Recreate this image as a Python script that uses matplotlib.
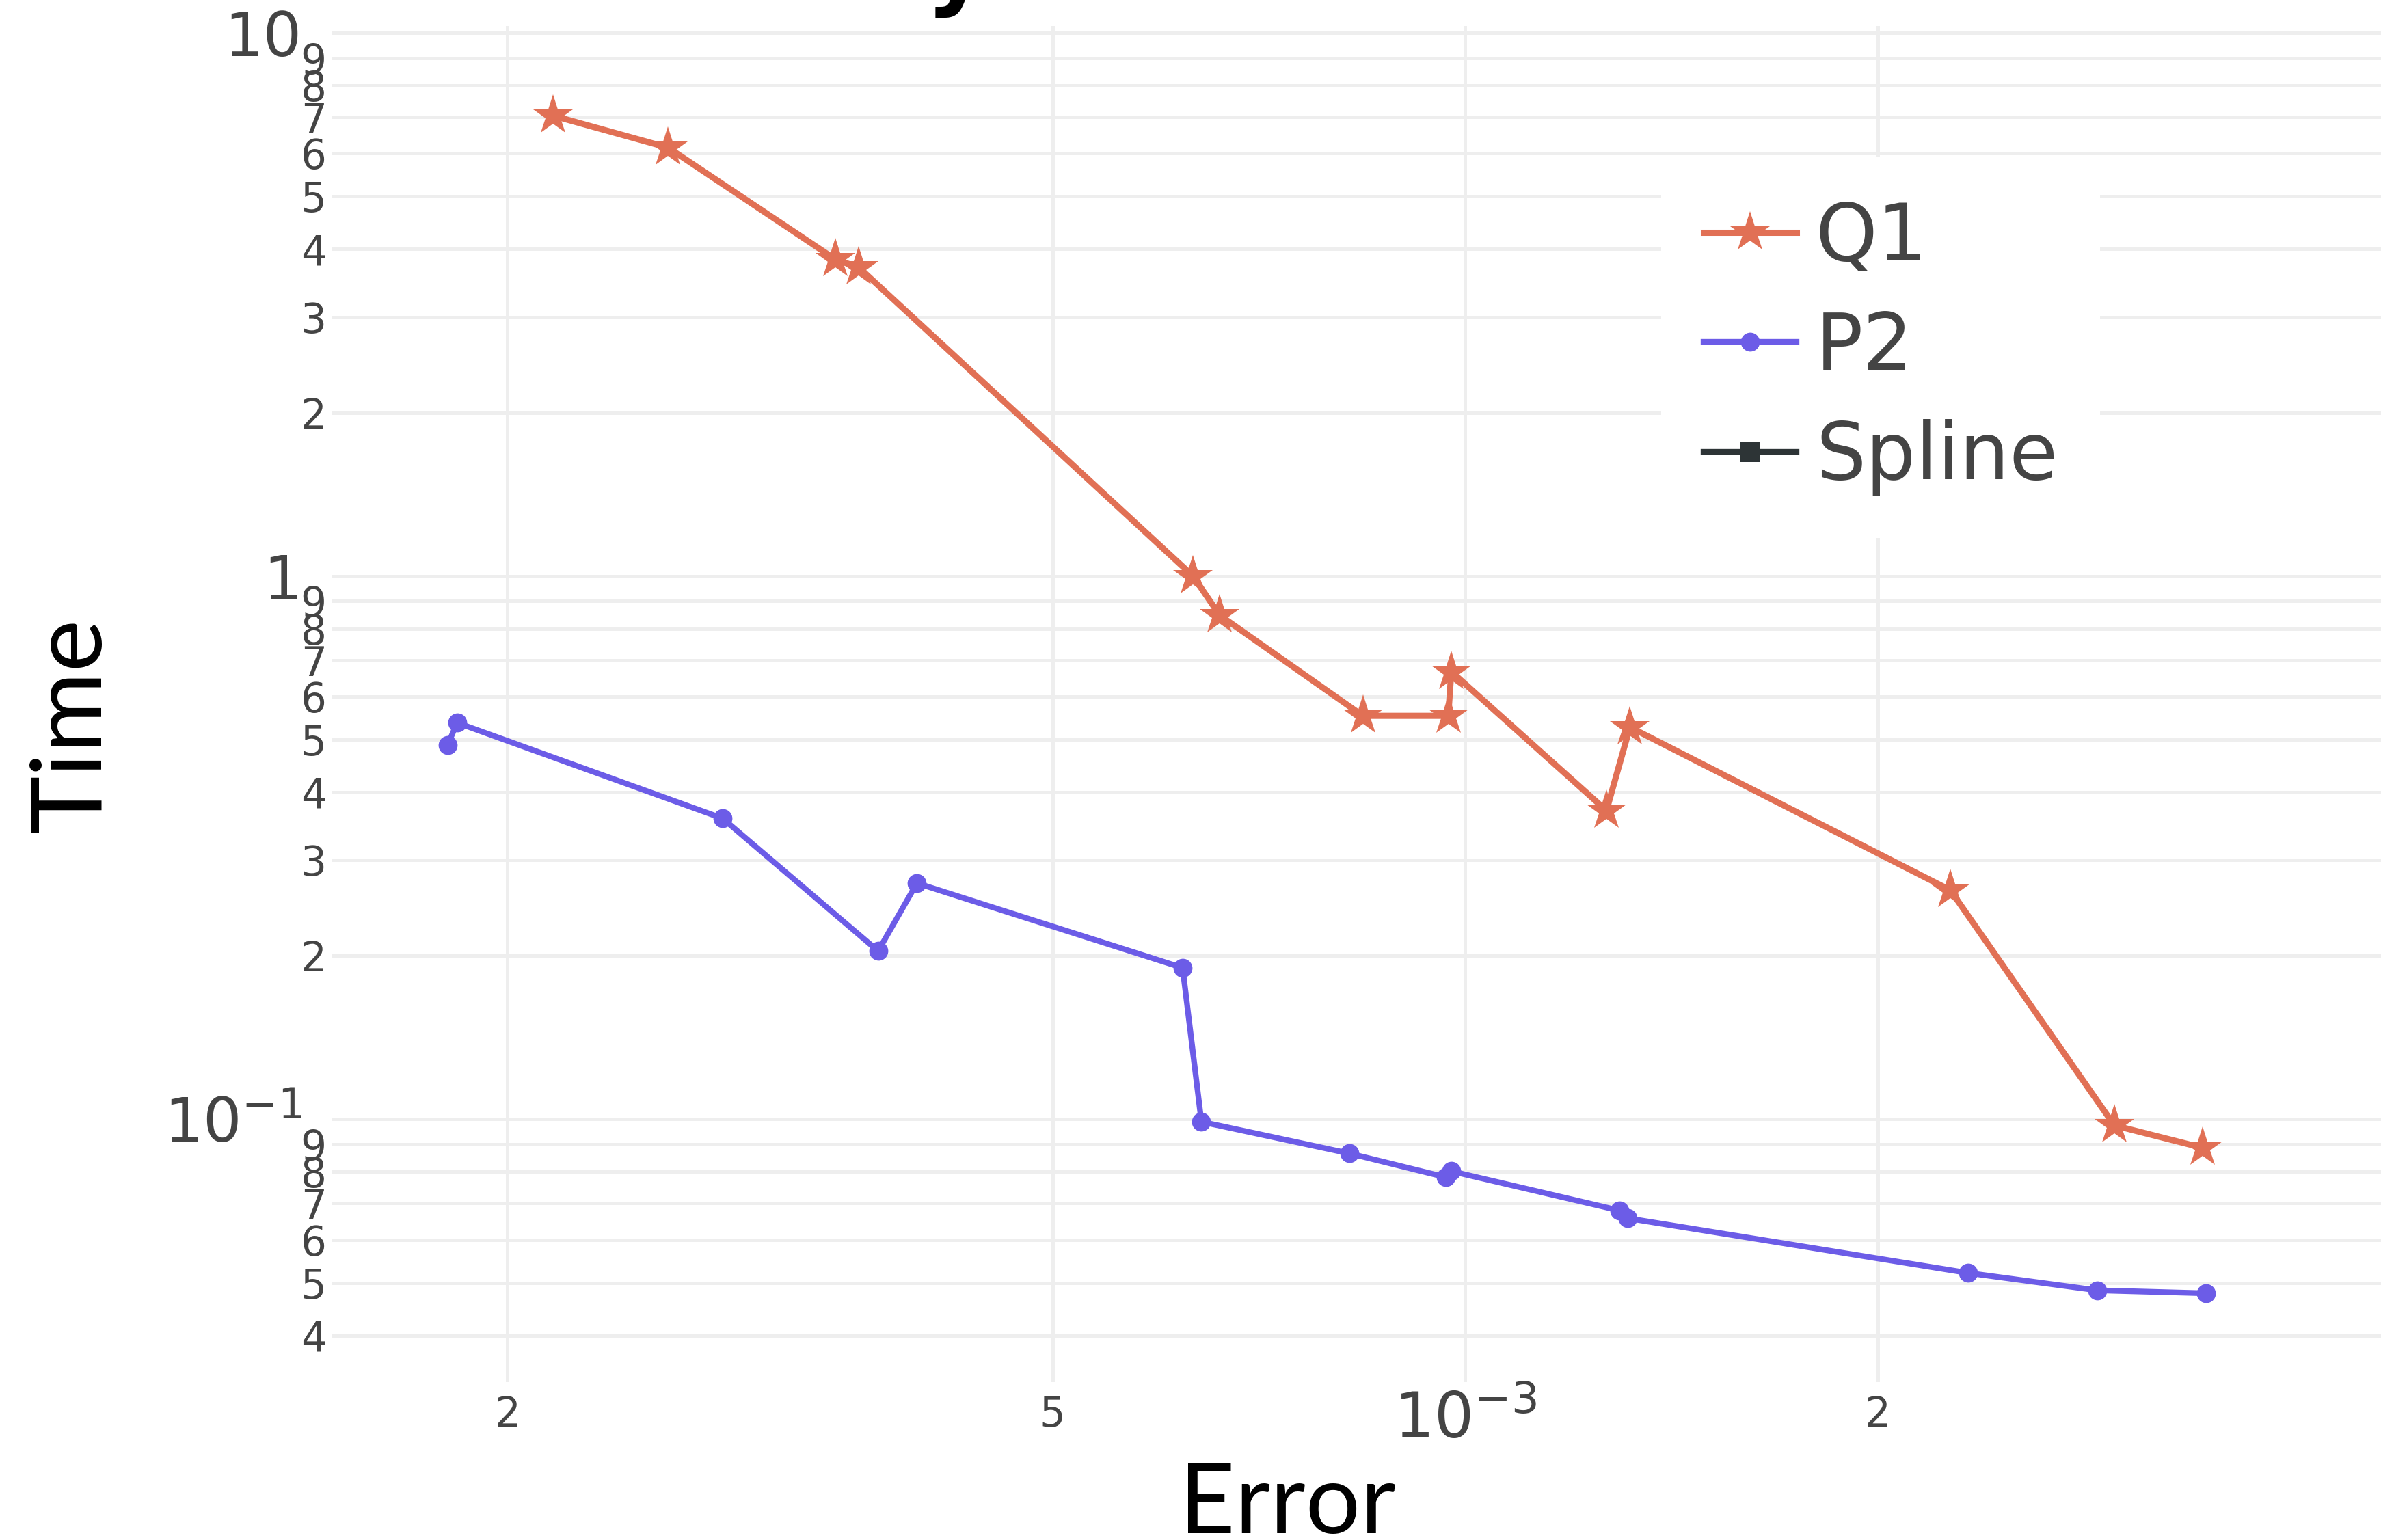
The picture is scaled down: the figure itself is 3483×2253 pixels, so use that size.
import matplotlib
matplotlib.use("Agg")
import matplotlib.pyplot as plt

W, H = 3483, 2253

# data (log-log)
q1_error = [2.16e-4, 2.62e-4, 3.47e-4, 3.61e-4, 6.33e-4, 6.62e-4, 8.42e-4,
            9.72e-4, 9.77e-4, 1.268e-3, 1.319e-3, 2.26e-3, 2.977e-3, 3.452e-3]
q1_time = [7.04, 6.15, 3.83, 3.70, 1.00, 0.847, 0.553,
           0.553, 0.667, 0.370, 0.527, 0.264, 0.0974, 0.0886]

p2_error = [1.809e-4, 1.838e-4, 2.871e-4, 3.729e-4, 3.98e-4, 6.22e-4, 6.42e-4,
            8.23e-4, 9.68e-4, 9.77e-4, 1.296e-3, 1.314e-3, 2.329e-3, 2.894e-3, 3.474e-3]
p2_time = [0.489, 0.537, 0.358, 0.204, 0.272, 0.190, 0.0989,
           0.0865, 0.0782, 0.0802, 0.0679, 0.0657, 0.0521, 0.0484, 0.0478]

spline_error = []
spline_time = []

series_names = ["Q1", "P2", "Spline"]

x_major = [1e-3]
x_major_labels = ["$10^{-3}$"]
x_minor = [2e-4, 5e-4, 2e-3]
x_minor_labels = ["2", "5", "2"]

y_major = [0.1, 1, 10]
y_major_labels = ["$10^{-1}$", "1", "10"]
y_minor = [0.04, 0.05, 0.06, 0.07, 0.08, 0.09,
           0.2, 0.3, 0.4, 0.5, 0.6, 0.7, 0.8, 0.9,
           2, 3, 4, 5, 6, 7, 8, 9]
y_minor_labels = ["4", "5", "6", "7", "8", "9",
                  "2", "3", "4", "5", "6", "7", "8", "9",
                  "2", "3", "4", "5", "6", "7", "8", "9"]

ORANGE = "#e17055"
PURPLE = "#6c5ce7"
DARK = "#2d3436"
TICK = "#444444"


def main():
    fig = plt.figure(figsize=(W / 100, H / 100), dpi=100)
    left, top, bottom = 486, 38, 2022
    ax = fig.add_axes([left / W, 1 - bottom / H, (W - left) / W, (bottom - top) / H])

    ax.set_xscale("log")
    ax.set_yscale("log")
    ax.set_xlim(1.49e-4, 4.66e-3)
    ax.set_ylim(0.0328, 10.3)

    ax.plot(q1_error, q1_time, color=ORANGE, lw=6.5, marker="*", ms=44,
            mew=0, label=series_names[0], clip_on=False, zorder=3)
    ax.plot(p2_error, p2_time, color=PURPLE, lw=6, marker="o", ms=20,
            mew=0, label=series_names[1], clip_on=False, zorder=3)
    ax.plot(spline_error, spline_time, color=DARK, lw=6, marker="s", ms=21,
            mew=0, label=series_names[2])

    ax.set_xticks(x_major)
    ax.set_xticklabels(x_major_labels)
    ax.set_xticks(x_minor, minor=True)
    ax.set_xticklabels(x_minor_labels, minor=True)
    ax.set_yticks(y_major)
    ax.set_yticklabels(y_major_labels)
    ax.set_yticks(y_minor, minor=True)
    ax.set_yticklabels(y_minor_labels, minor=True)

    ax.tick_params(axis="both", which="both", length=0, colors=TICK)
    ax.tick_params(axis="x", which="major", labelsize=66, pad=7)
    ax.tick_params(axis="x", which="minor", labelsize=43, pad=14)
    ax.tick_params(axis="y", which="major", labelsize=64, pad=32)
    ax.tick_params(axis="y", which="minor", labelsize=43, pad=6)

    ax.grid(which="both", color="#eeeeee", lw=3.6)
    ax.set_axisbelow(True)
    for s in ax.spines.values():
        s.set_visible(False)

    ax.set_xlabel("Error", fontsize=102, family="Lato", color="black", va="baseline")
    ax.xaxis.set_label_coords((1883 - left) / (W - left), (bottom - 2243) / (bottom - top))
    ax.set_ylabel("Time", fontsize=104, family="Lato", color="black",
                  rotation=90, rotation_mode="anchor", ha="center", va="baseline")
    ax.yaxis.set_label_coords((147 - left) / (W - left), (bottom - 1060) / (bottom - top))

    # title sits almost entirely above the canvas, only the descender shows
    fig.text(1445 / W, 1 + 4 / H, "Efficiency", ha="right", va="baseline",
             fontsize=100, fontweight="bold", color="black")

    leg = ax.legend(loc="upper left", bbox_to_anchor=(2430 / W, 1 - 230 / H),
                    bbox_transform=fig.transFigure, fontsize=83,
                    handlelength=1.18, handletextpad=0.24, labelspacing=0.42,
                    borderpad=0.54, borderaxespad=0, frameon=True,
                    facecolor="white", edgecolor="none", framealpha=1,
                    fancybox=False)
    for t in leg.get_texts():
        t.set_color(TICK)

    fig.savefig("out.png", dpi=100)


if __name__ == "__main__":
    main()
